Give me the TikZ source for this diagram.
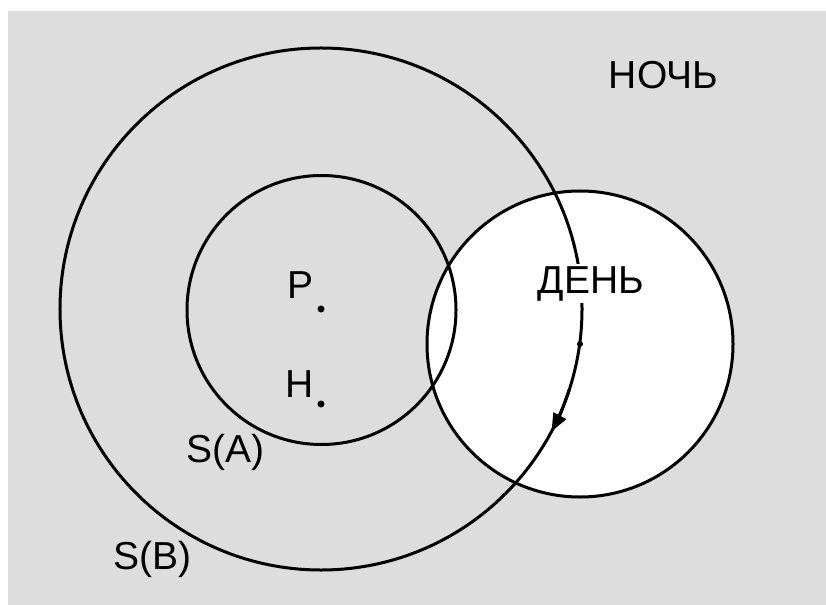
\documentclass[tikz,border=0pt]{standalone}
\usepackage{fontspec}
\setmainfont{Liberation Sans}
\usetikzlibrary{arrows.meta}
\definecolor{bggray}{RGB}{221,221,221}
\begin{document}
\begin{tikzpicture}[x=1bp,y=-1bp,
  ring/.style={circle,draw=black,line width=3bp,inner sep=0pt},
  lbl/.style={font=\fontsize{39bp}{44bp}\selectfont,inner sep=0pt,anchor=base},
  pt/.style={circle,fill=black,inner sep=0pt,minimum size=7bp}]
\useasboundingbox (0,0) rectangle (826,605);
\fill[white] (0,0) rectangle (826,605);
\fill[bggray] (8,11) rectangle (826,605);
% day circle
\node[ring,fill=white,minimum size=306bp] (day) at (580,344) {};
% S(B) and S(A)
\node[ring,minimum size=522bp] (SB) at (321,309) {};
\node[ring,minimum size=269bp] (SA) at (321.5,310) {};
% labels
\node[lbl] (night) at (663.5,89) {НОЧЬ};
\node[lbl,fill=white,inner sep=2bp] (dayl) at (591,293) {ДЕНЬ};
\node[lbl] (Pl) at (301,298) {Р};
\node[lbl] (Hl) at (300,397) {Н};
\node[lbl] (SAl) at (225,462) {S(A)};
\node[lbl] (SBl) at (152,569) {S(B)};
% points
\node[pt] (P) at (321,309) {};
\node[pt] (H) at (321,404) {};
\node[pt,minimum size=6bp] (D) at (day.center) {};
% arrow on S(B)
\draw[line width=3bp,-{Triangle[length=18bp,width=14bp]}]
  (SB.center) ++(-18:261bp) arc[start angle=-18,end angle=-28,radius=261bp];
\end{tikzpicture}
\end{document}
